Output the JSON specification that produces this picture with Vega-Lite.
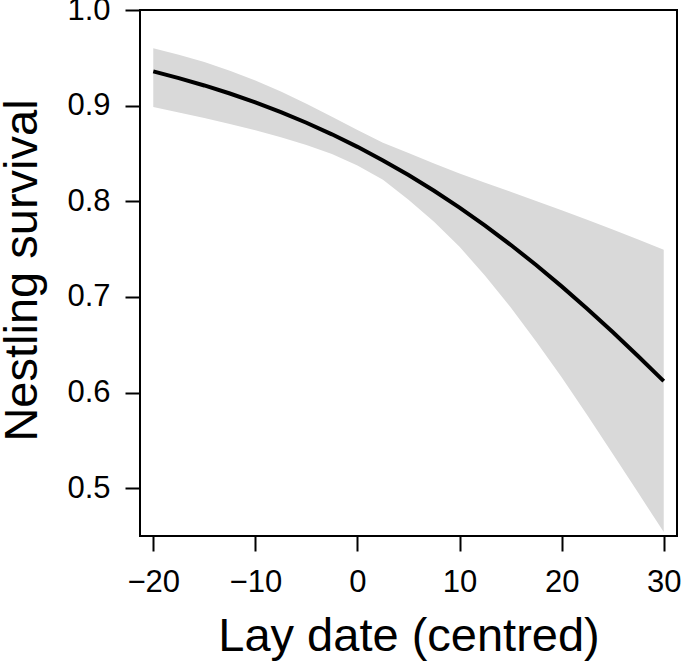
{
  "$schema": "https://vega.github.io/schema/vega-lite/v6.json",
  "autosize": "none",
  "width": 537,
  "height": 526,
  "padding": {"left": 140, "top": 10, "right": 8, "bottom": 129},
  "background": "white",
  "config": {
    "view": {"stroke": "black", "strokeWidth": 2},
    "font": "Liberation Sans",
    "axis": {
      "domain": false,
      "grid": false,
      "tickColor": "black",
      "tickWidth": 2,
      "tickSize": 15,
      "labelColor": "black",
      "labelFont": "Liberation Sans",
      "labelFontSize": 31,
      "titleFont": "Liberation Sans",
      "titleFontSize": 47,
      "titleFontWeight": "normal",
      "titleColor": "black"
    }
  },
  "data": {
    "values": [
      {"x": -20, "fit": 0.9358, "lower": 0.8985, "upper": 0.9601},
      {"x": -17.5, "fit": 0.9288, "lower": 0.8929, "upper": 0.9533},
      {"x": -15, "fit": 0.9211, "lower": 0.8871, "upper": 0.9455},
      {"x": -12.5, "fit": 0.9127, "lower": 0.8809, "upper": 0.9365},
      {"x": -10, "fit": 0.9034, "lower": 0.8742, "upper": 0.9263},
      {"x": -7.5, "fit": 0.8932, "lower": 0.8669, "upper": 0.9147},
      {"x": -5, "fit": 0.8821, "lower": 0.8588, "upper": 0.902},
      {"x": -2.5, "fit": 0.87, "lower": 0.8493, "upper": 0.8883},
      {"x": 0, "fit": 0.8569, "lower": 0.8375, "upper": 0.8744},
      {"x": 2.5, "fit": 0.8427, "lower": 0.8224, "upper": 0.8612},
      {"x": 5, "fit": 0.8274, "lower": 0.8015, "upper": 0.8505},
      {"x": 7.5, "fit": 0.811, "lower": 0.7785, "upper": 0.8395},
      {"x": 10, "fit": 0.7933, "lower": 0.7524, "upper": 0.829},
      {"x": 12.5, "fit": 0.7745, "lower": 0.7222, "upper": 0.8194},
      {"x": 15, "fit": 0.7545, "lower": 0.6891, "upper": 0.81},
      {"x": 17.5, "fit": 0.7334, "lower": 0.6535, "upper": 0.8004},
      {"x": 20, "fit": 0.711, "lower": 0.6159, "upper": 0.7907},
      {"x": 22.5, "fit": 0.6877, "lower": 0.5766, "upper": 0.7807},
      {"x": 25, "fit": 0.6633, "lower": 0.5361, "upper": 0.7705},
      {"x": 27.5, "fit": 0.638, "lower": 0.4951, "upper": 0.7601},
      {"x": 30, "fit": 0.612, "lower": 0.4541, "upper": 0.7494}
    ]
  },
  "layer": [
    {
      "mark": {"type": "area", "color": "#d9d9d9", "opacity": 1},
      "encoding": {
        "x": {
          "field": "x",
          "type": "quantitative",
          "scale": {"domain": [-21.3, 31.3], "nice": false, "zero": false},
          "axis": {
            "title": "Lay date (centred)",
            "values": [-20, -10, 0, 10, 20, 30],
            "labelPadding": 16,
            "titleBaseline": "alphabetic",
            "titleY": 114
          }
        },
        "y": {
          "field": "lower",
          "type": "quantitative",
          "scale": {"domain": [0.45, 1.0], "nice": false, "zero": false},
          "axis": {
            "title": "Nestling survival",
            "values": [0.5, 0.6, 0.7, 0.8, 0.9, 1.0],
            "format": ".1f",
            "labelPadding": 15,
            "titleBaseline": "alphabetic",
            "titleX": -104,
            "titleY": 260
          }
        },
        "y2": {"field": "upper"}
      }
    },
    {
      "mark": {"type": "line", "color": "black", "strokeWidth": 4},
      "encoding": {
        "x": {"field": "x", "type": "quantitative"},
        "y": {"field": "fit", "type": "quantitative"}
      }
    }
  ]
}
